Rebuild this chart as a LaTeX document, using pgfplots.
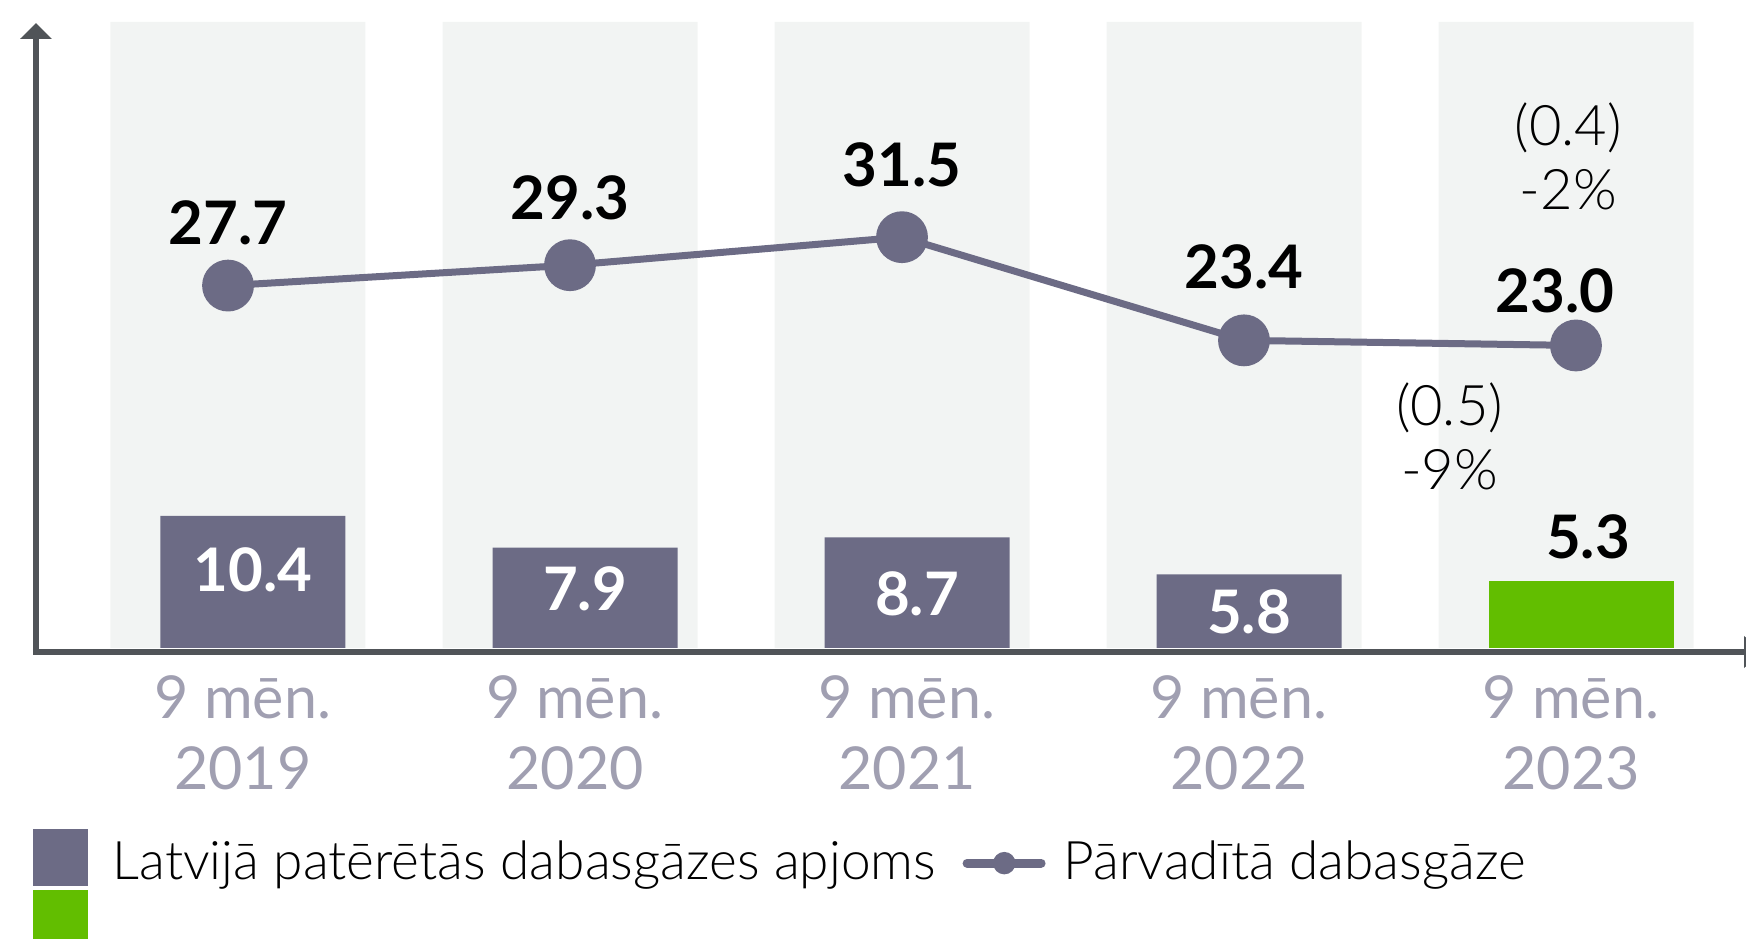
\documentclass[border=0pt]{standalone}
\usepackage{fontspec}
\setmainfont{Lato}
\newfontfamily\lightfont{Lato Light}
\usepackage{pgfplots}
\pgfplotsset{compat=1.18}
\usetikzlibrary{arrows.meta}

\definecolor{bgcol}{RGB}{242,244,243}
\definecolor{barcol}{RGB}{108,107,133}
\definecolor{greencol}{RGB}{98,190,0}
\definecolor{axiscol}{RGB}{80,84,88}
\definecolor{labelcol}{RGB}{160,159,177}

\begin{document}
\begin{tikzpicture}
\begin{axis}[name=main, at={(0,0)}, anchor=south west, scale only axis,
  width=427.5pt, height=156.5pt,
  xmin=-0.6084, xmax=4.5422, ymin=0, ymax=49.29,
  axis x line=bottom, axis y line=none, x axis line style={draw=none},
  xtick={0,1,2,3,4}, major tick length=0pt, xtick style={draw=none},
  xticklabels={{9 mēn.\\2019},{9 mēn.\\2020},{9 mēn.\\2021},{9 mēn.\\2022},{9 mēn.\\2023}},
  xticklabel style={align=center, font=\fontsize{14.8pt}{17.75pt}\selectfont,
    text=labelcol, inner sep=0pt, yshift=-6.75pt, xshift=1.25pt},
  ytick=\empty, clip=false,
  legend columns=2,
  legend style={at={(rel axis cs:-0.00175,-0.3437)}, anchor=west, draw=none, fill=none,
    inner sep=0pt, outer sep=0pt, font=\lightfont\fontsize{13.3pt}{15pt}\selectfont,
    cells={anchor=west}, nodes={inner sep=0pt},
    /tikz/column 1/.style={column sep=6.25pt},
    /tikz/column 2/.style={column sep=6.5pt},
    /tikz/column 3/.style={column sep=4.25pt}}]

  % background bands
  \addplot[ybar, bar width=63.75pt, bar shift=0pt, fill=bgcol, draw=none, forget plot]
    coordinates {(0,49.29) (1,49.29) (2,49.29) (3,49.29) (4,49.29)};
  % consumption in Latvia
  \addplot[ybar, bar width=46.25pt, bar shift=3.75pt, fill=barcol, draw=none, forget plot]
    coordinates {(0,10.4) (1,7.9) (2,8.7) (3,5.8)};
  \addplot[ybar, bar width=46.25pt, bar shift=3.75pt, fill=greencol, draw=none, forget plot]
    coordinates {(4,5.3)};

  \addlegendimage{legend image code/.code={
    \path (0pt,19pt) (0pt,-19pt);
    \fill[barcol] (0pt,-5.5pt) rectangle (13.25pt,8.25pt);
    \fill[greencol] (0pt,-7pt) rectangle (13.25pt,-19pt);}}
  \addlegendentry{Latvijā patērētās dabasgāzes apjoms}
  \addlegendimage{legend image code/.code={
    \path (0pt,0pt) (20.75pt,0pt);
    \draw[barcol, line width=2.25pt, line cap=round] (1.1pt,0pt) -- (19.6pt,0pt);
    \fill[barcol] (10.4pt,0pt) circle (2.6pt);}}
  \addlegendentry{Pārvadītā dabasgāze}

  \begin{scope}[every node/.style={font=\bfseries\fontsize{15pt}{18pt}\selectfont, text=white, inner sep=0pt}]
    \node[xshift=3.75pt] at (axis cs:0,6.14) {10.4};
    \node[xshift=3.75pt] at (axis cs:1,4.65) {7.9};
    \node[xshift=3.75pt] at (axis cs:2,4.29) {8.7};
    \node[xshift=3.75pt] at (axis cs:3,2.83) {5.8};
    \node[xshift=5.5pt, text=black] at (axis cs:4,8.74) {5.3};
  \end{scope}

  \begin{scope}[every node/.style={font=\lightfont\fontsize{14pt}{16pt}\selectfont, align=center, inner sep=0pt}]
    \node at (axis cs:4.007,38.74) {(0.4)\\-2\%};
    \node at (axis cs:3.649,16.65) {(0.5)\\-9\%};
  \end{scope}

  \draw[axiscol, line width=1.5pt, -{Triangle[width=7.75pt,length=4pt]}]
    ([yshift=-1.75pt]rel axis cs:0,0) -- ([yshift=-0.25pt]rel axis cs:0,1);
  \draw[axiscol, line width=1.5pt, -{Triangle[width=7.75pt,length=4.5pt]}]
    ([xshift=-0.75pt,yshift=-1pt]rel axis cs:0,0) -- ([xshift=4pt,yshift=-1pt]rel axis cs:1,0);
\end{axis}

\begin{axis}[at={(0,0)}, anchor=south west, scale only axis,
  width=427.5pt, height=156.5pt,
  xmin=-0.6084, xmax=4.5422, ymin=-0.746, ymax=48.39,
  hide axis, clip=false]
  % transported natural gas
  \addplot[barcol, line width=1.75pt, mark=*, mark size=5.6pt,
    mark options={solid, fill=barcol, draw=none}]
    coordinates {(-0.03,27.7) (1.0,29.3) (2.0,31.5) (3.03,23.4) (4.03,23.0)};
  \begin{scope}[every node/.style={font=\bfseries\fontsize{15pt}{18pt}\selectfont, inner sep=0pt}]
    \node[yshift=15.65pt] at (axis cs:-0.03,27.7) {27.7};
    \node[yshift=16.8pt] at (axis cs:1.0,29.3) {29.3};
    \node[yshift=18.05pt] at (axis cs:2.0,31.5) {31.5};
    \node[yshift=18.35pt] at (axis cs:3.03,23.4) {23.4};
    \node[yshift=13.6pt, xshift=-5.25pt] at (axis cs:4.03,23.0) {23.0};
  \end{scope}
\end{axis}

\pgfresetboundingbox
\path[use as bounding box] (-9pt,-72.75pt) rectangle (427.5pt,162pt);
\end{tikzpicture}
\end{document}
